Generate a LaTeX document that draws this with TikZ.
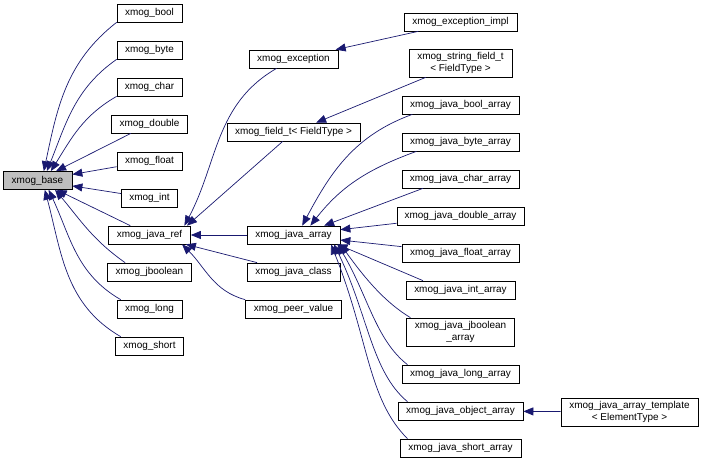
\documentclass[tikz,border=0pt]{standalone}
\usepackage{fontspec}
\setmainfont{Liberation Sans}
\usetikzlibrary{arrows.meta}
\definecolor{edgeblue}{HTML}{191970}
\definecolor{basegrey}{HTML}{BFBFBF}

\begin{document}
\begin{tikzpicture}[
	x=1bp, y=1bp,
	cls/.style={draw, rectangle, minimum height=18bp, inner sep=0pt, fill=white, font=\fontsize{10}{12}\selectfont, line width=0.7bp},
	cls2/.style={cls, minimum height=28bp, align=center},
	basecls/.style={cls, fill=basegrey},
	connect/.style={-{Triangle[length=10bp,width=8bp]}, edgeblue, line width=0.7bp}
	]
	\useasboundingbox (0,0) rectangle (702,462);
	
	%-----------------------
	% Column positions
	%-----------------------
	\def\xbase{37.5}   % base class
	\def\xsub{149.5}   % direct subclasses
	\def\xmid{293.5}   % java_ref subclasses
	\def\xleaf{460.5}  % leaves
	\def\xtpl{629.5}   % template
	
	%-----------------------
	% Base class
	%-----------------------
	\node[basecls, minimum width=69bp] (base) at (\xbase,281.5) {xmog\_base};
	
	%-----------------------
	% Direct subclasses
	%-----------------------
	\node[cls, minimum width=65bp] (bool)     at (\xsub,449) {xmog\_bool};
	\node[cls, minimum width=65bp] (byte)     at (\xsub,412) {xmog\_byte};
	\node[cls, minimum width=65bp] (char)     at (\xsub,375) {xmog\_char};
	\node[cls, minimum width=76bp] (double)   at (\xsub,338) {xmog\_double};
	\node[cls, minimum width=65bp] (float)    at (\xsub,301) {xmog\_float};
	\node[cls, minimum width=56bp] (int)      at (\xsub,264) {xmog\_int};
	\node[cls, minimum width=82bp] (javaref)  at (\xsub,227) {xmog\_java\_ref};
	\node[cls, minimum width=84bp] (jboolean) at (\xsub,190) {xmog\_jboolean};
	\node[cls, minimum width=65bp] (long)     at (\xsub,153) {xmog\_long};
	\node[cls, minimum width=68bp] (short)    at (\xsub,116) {xmog\_short};
	
	%-----------------------
	% Second level
	%-----------------------
	\node[cls, minimum width=89bp]  (exception) at (\xmid,403) {xmog\_exception};
	\node[cls, minimum width=133bp] (fieldt)    at (\xmid,330) {xmog\_field\_t< FieldType >};
	\node[cls, minimum width=93bp]  (javaarray) at (\xmid,227) {xmog\_java\_array};
	\node[cls, minimum width=93bp]  (javaclass) at (\xmid,190) {xmog\_java\_class};
	\node[cls, minimum width=96bp]  (peervalue) at (\xmid,153) {xmog\_peer\_value};
	
	%-----------------------
	% Third level
	%-----------------------
	\node[cls, minimum width=113bp]  (exceptionimpl) at (\xleaf,440) {xmog\_exception\_impl};
	\node[cls2, minimum width=103bp] (stringfield)   at (\xleaf,399) {xmog\_string\_field\_t\\< FieldType >};
	\node[cls, minimum width=117bp]  (boolarray)     at (\xleaf,357) {xmog\_java\_bool\_array};
	\node[cls, minimum width=117bp]  (bytearray)     at (\xleaf,320) {xmog\_java\_byte\_array};
	\node[cls, minimum width=117bp]  (chararray)     at (\xleaf,283) {xmog\_java\_char\_array};
	\node[cls, minimum width=127bp]  (doublearray)   at (\xleaf,246) {xmog\_java\_double\_array};
	\node[cls, minimum width=117bp]  (floatarray)    at (\xleaf,209) {xmog\_java\_float\_array};
	\node[cls, minimum width=109bp]  (intarray)      at (\xleaf,172) {xmog\_java\_int\_array};
	\node[cls2, minimum width=108bp] (jbooleanarray) at (\xleaf,130) {xmog\_java\_jboolean\\\_array};
	\node[cls, minimum width=117bp]  (longarray)     at (\xleaf,88)  {xmog\_java\_long\_array};
	\node[cls, minimum width=125bp]  (objectarray)   at (\xleaf,51)  {xmog\_java\_object\_array};
	\node[cls, minimum width=121bp]  (shortarray)    at (\xleaf,14)  {xmog\_java\_short\_array};
	
	%-----------------------
	% Template
	%-----------------------
	\node[cls2, minimum width=137bp] (arraytemplate) at (\xtpl,50) {xmog\_java\_array\_template\\< ElementType >};
	
	%-----------------------
	% Connections
	%-----------------------
	% subclasses -> base
	\draw[connect] (bool.south west) to[out=218, in=78] (base.56);
	\draw[connect] (byte.south west) to[out=215, in=68] (base.45);
	\draw[connect] (char.south west) to[out=210, in=58] (base.35);
	\draw[connect] (double) -- (base);
	\draw[connect] (float) -- (base);
	\draw[connect] (int) -- (base);
	\draw[connect] (javaref) -- (base);
	\draw[connect] (jboolean.159) to[out=145, in=-50] (base.-28);
	\draw[connect] (long.162) to[out=150, in=-65] (base.-40);
	\draw[connect] (short.162) to[out=150, in=-75] (base.-52);
	
	% second level -> java_ref
	\draw[connect] (exception.209) to[out=210, in=62] (javaref.15);
	\draw[connect] (fieldt.221) -- (javaref.14);
	\draw[connect] (javaarray) -- (javaref);
	\draw[connect] (javaclass) -- (javaref);
	\draw[connect] (peervalue.north west) to[out=165, in=-45] (javaref.-16);
	
	% third level -> second level
	\draw[connect] (exceptionimpl) -- (exception);
	\draw[connect] (stringfield) -- (fieldt);
	\draw[connect] (boolarray.191) to[out=200, in=62] (javaarray.47);
	\draw[connect] (bytearray.192) to[out=200, in=52] (javaarray.29);
	\draw[connect] (chararray.194) -- (javaarray.17);
	\draw[connect] (doublearray) -- (javaarray);
	\draw[connect] (floatarray) -- (javaarray);
	\draw[connect] (intarray.166) -- (javaarray.-12);
	\draw[connect] (jbooleanarray.164) .. controls +(-25,15) and +(25,-35) .. (javaarray.-11);
	\draw[connect] (longarray.170) .. controls +(-32,25) and +(30,-50) .. (javaarray.-12);
	\draw[connect] (objectarray.170) .. controls +(-36,30) and +(34,-70) .. (javaarray.-13);
	\draw[connect] (shortarray.170) .. controls +(-40,40) and +(38,-95) .. (javaarray.-14);
	
	% template -> object_array
	\draw[connect] (arraytemplate) -- (objectarray);
	
\end{tikzpicture}
\end{document}
